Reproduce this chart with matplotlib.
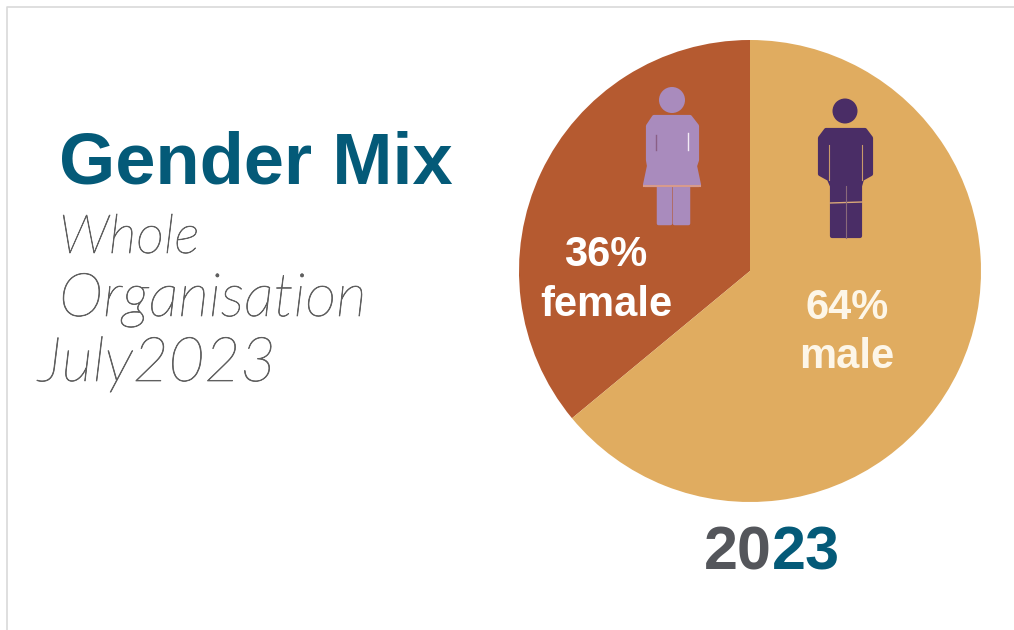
import matplotlib
matplotlib.use('Agg')
import matplotlib.pyplot as plt
import matplotlib.patheffects as pe
from matplotlib.patches import Circle, Polygon

# data
labels = ['female', 'male']
shares = [36, 64]
colors = ['#b55a30', '#e0ac60']
title = 'Gender Mix'
subtitle = ['Whole', 'Organisation', 'July2023']
year_dark, year_teal = '20', '23'

TEAL = '#045a78'
GREY = '#54565b'
HAND = '#5f5f5f'

fig = plt.figure(figsize=(10.14, 6.3), dpi=100)
ax = fig.add_axes([0, 0, 1, 1])

# pie (y axis gets flipped below, so clockwise here is counter-clockwise on screen)
ax.pie(shares, colors=colors, startangle=-90, counterclock=False,
       center=(750, 271), radius=231, frame=True,
       wedgeprops={'linewidth': 0})
ax.set_xlim(0, 1014)
ax.set_ylim(630, 0)
ax.set_aspect('auto')
ax.axis('off')

# thin frame of the screenshot
ax.plot([7, 7, 1014], [630, 7, 7], color='#d9d9d9', lw=1.2)

# left hand text
ax.text(59, 184, title, family='Liberation Sans', weight='bold', fontsize=52,
        color=TEAL, va='baseline')
hand = pe.withStroke(linewidth=0.5, foreground=HAND)
for x, y, s, txt in [(59, 253, 39, subtitle[0]), (59, 316, 43.5, subtitle[1]), (38, 381, 44.5, subtitle[2])]:
    ax.text(x, y, txt, family='Lato', style='italic', weight='light', fontsize=s,
            color=HAND, va='baseline', path_effects=[hand])

# labels on the slices
ax.text(606, 266, f'{shares[0]}%', family='Liberation Sans', weight='bold', fontsize=30,
        color='white', ha='center', va='baseline')
ax.text(606, 316, labels[0], family='Liberation Sans', weight='bold', fontsize=30,
        color='white', ha='center', va='baseline')
ax.text(847, 319, f'{shares[1]}%', family='Liberation Sans', weight='bold', fontsize=30,
        color='#fdf6e8', ha='center', va='baseline')
ax.text(847, 368, labels[1], family='Liberation Sans', weight='bold', fontsize=30,
        color='#fdf6e8', ha='center', va='baseline')

# year in two colours
ax.text(772, 569, year_dark, family='Liberation Sans', weight='bold', fontsize=44,
        color=GREY, ha='right', va='baseline')
ax.text(772, 569, year_teal, family='Liberation Sans', weight='bold', fontsize=44,
        color=TEAL, ha='left', va='baseline')


def woman_icon():
    fill, edge = '#a98bbd', '#d79a8c'
    ax.add_patch(Circle((672, 100), 13, fc=fill, ec='none', zorder=3))
    for x0, x1 in [(658, 670), (674, 688)]:
        ax.add_patch(Polygon([(x0, 186), (x1, 186), (x1, 223), (x0, 223)],
                             fc=fill, ec=fill, lw=2.5, joinstyle='round', zorder=3))
    dress = [(654, 117), (690, 117), (697, 126), (697, 160), (695, 166),
             (699, 185), (645, 185), (649, 166), (648, 160), (648, 126)]
    ax.add_patch(Polygon(dress, fc=fill, ec=fill, lw=3, joinstyle='round', zorder=4))
    ax.plot([644, 700], [186, 186], color=edge, lw=1.5, zorder=5)
    ax.plot([688, 688], [133, 150], color='#f4ecf6', lw=1, zorder=5)
    ax.plot([656, 656], [135, 150], color='#8a5f86', lw=1, zorder=5)


def man_icon():
    fill = '#4a2d66'
    ax.add_patch(Circle((845, 111), 12.5, fc=fill, ec='none', zorder=3))
    body = [(826, 130), (865, 130), (871, 138), (871, 174), (862, 179),
            (860, 186), (860, 236), (832, 236),
            (832, 186), (829, 179), (820, 174), (820, 138)]
    ax.add_patch(Polygon(body, fc=fill, ec=fill, lw=3, joinstyle='round', zorder=3))
    ax.plot([830, 862], [203, 202], color='#d9a878', lw=1, zorder=4)
    ax.plot([829, 829], [145, 180], color='#c99a6a', lw=0.8, zorder=4)
    ax.plot([862, 862], [145, 180], color='#c99a6a', lw=0.8, zorder=4)
    ax.plot([846, 846], [186, 238], color='#8a6a7a', lw=0.8, zorder=4)


woman_icon()
man_icon()

fig.savefig('out.png', dpi=100, facecolor='white')
